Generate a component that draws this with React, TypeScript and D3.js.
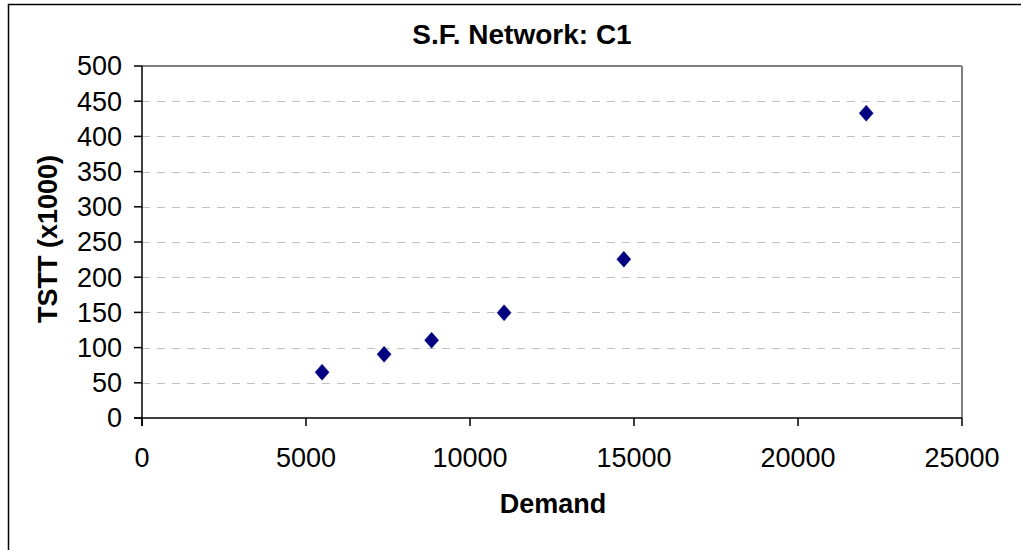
import React from "react";
import * as d3 from "d3";

const demand = [5490, 7380, 8830, 11040, 14690, 22080];
const tstt = [65, 90.5, 110.5, 149.5, 225.5, 433];
const xTicks = [0, 5000, 10000, 15000, 20000, 25000];
const yTicks = [0, 50, 100, 150, 200, 250, 300, 350, 400, 450, 500];
const title = "S.F. Network: C1";
const xTitle = "Demand";
const yTitle = "TSTT (x1000)";

const W = 1021;
const H = 550;
const m = { left: 142, right: 962, top: 66, bottom: 418 };
const FONT = "'Liberation Sans', Arial, sans-serif";

export default function App() {
  const x = d3.scaleLinear().domain([0, 25000]).range([m.left, m.right]);
  const y = d3.scaleLinear().domain([0, 500]).range([m.bottom, m.top]);
  const diamond = (cx: number, cy: number) =>
    `M${cx},${cy - 8}L${cx + 7},${cy}L${cx},${cy + 8}L${cx - 7},${cy}Z`;
  return (
    <svg
      width={W}
      height={H}
      style={{ position: "absolute", left: 0, top: 0, background: "#fff" }}
    >
      <rect x={8.5} y={4.5} width={1200} height={700} fill="#fff" stroke="#000" strokeWidth={1.5} />
      <text x={522} y={44} textAnchor="middle" fontFamily={FONT} fontWeight="bold" fontSize={28}>
        {title}
      </text>
      {yTicks.filter((t) => t > 0 && t < 500).map((t) => (
        <line
          key={"g" + t}
          x1={m.left}
          x2={m.right}
          y1={Math.round(y(t)) + 0.5}
          y2={Math.round(y(t)) + 0.5}
          stroke="#c0c0c0"
          strokeWidth={1}
          strokeDasharray="8,7"
        />
      ))}
      <line x1={m.left} x2={m.right} y1={m.top} y2={m.top} stroke="#808080" strokeWidth={2} />
      <line x1={m.right} x2={m.right} y1={m.top} y2={m.bottom} stroke="#808080" strokeWidth={2} />
      <line x1={m.left} x2={m.left} y1={m.top} y2={m.bottom + 8} stroke="#000" strokeWidth={1.5} />
      <line x1={m.left - 8} x2={m.right} y1={m.bottom} y2={m.bottom} stroke="#000" strokeWidth={1.5} />
      {yTicks.map((t) => (
        <g key={"y" + t}>
          <line x1={m.left - 8} x2={m.left} y1={y(t)} y2={y(t)} stroke="#000" strokeWidth={1.5} />
          <text
            x={m.left - 20}
            y={y(t)}
            dy="0.35em"
            textAnchor="end"
            fontFamily={FONT}
            fontSize={27}
          >
            {t}
          </text>
        </g>
      ))}
      {xTicks.map((t) => (
        <g key={"x" + t}>
          <line x1={x(t)} x2={x(t)} y1={m.bottom} y2={m.bottom + 8} stroke="#000" strokeWidth={1.5} />
          <text x={x(t)} y={467} textAnchor="middle" fontFamily={FONT} fontSize={27}>
            {t}
          </text>
        </g>
      ))}
      <text x={553} y={513} textAnchor="middle" fontFamily={FONT} fontWeight="bold" fontSize={27}>
        {xTitle}
      </text>
      <text
        transform={`translate(57,239) rotate(-90)`}
        textAnchor="middle"
        fontFamily={FONT}
        fontWeight="bold"
        fontSize={27}
      >
        {yTitle}
      </text>
      {demand.map((d, i) => (
        <path key={"p" + i} d={diamond(x(d), y(tstt[i]))} fill="#000080" stroke="#000080" strokeWidth={0.5} />
      ))}
    </svg>
  );
}
